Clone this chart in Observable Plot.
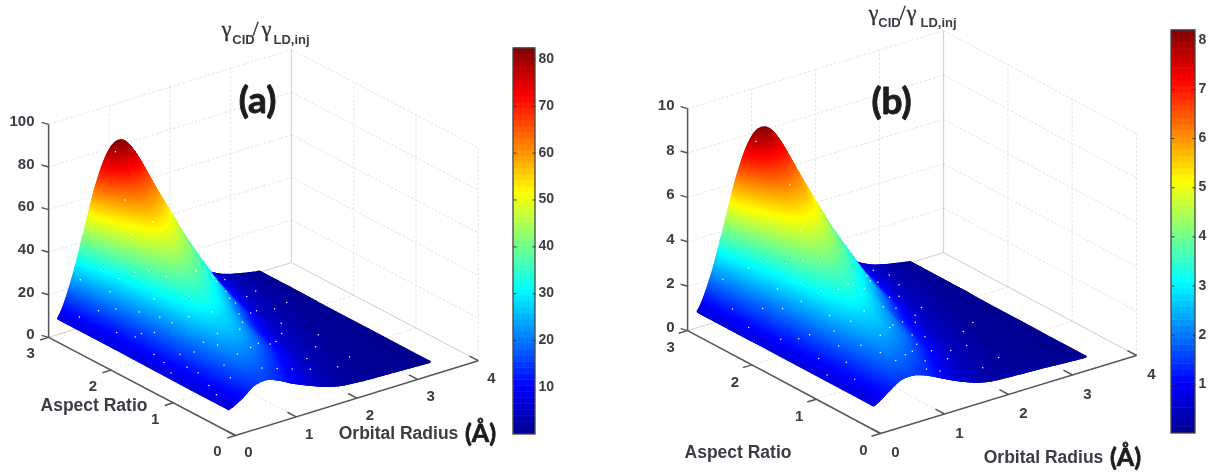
<!DOCTYPE html>
<html><head><meta charset="utf-8">
<script src="https://cdn.jsdelivr.net/npm/d3@7"></script>
<script src="https://cdn.jsdelivr.net/npm/@observablehq/plot@0.6"></script>
<style>
html,body{margin:0;padding:0;background:#fff;overflow:hidden;width:1212px;height:475px}
#root{display:flex;width:1212px;height:475px}
svg{display:block;filter:blur(.45px)}
</style></head><body><div id="root"></div>
<script>
// ---------- data ----------
const aspectRatios=[3,2.7,2.39,2.09,1.79,1.48,1.18,0.88,0.57,0.27];
const orbitalRadii=[0.16,0.37,0.57,0.78,0.99,1.19,1.40,1.61,1.81,2.02,2.23,2.43,2.64,2.85,3.06,3.26,3.47];
const surfaceA=[
[7.5,21.7,41.8,63.8,78.3,82,75,61,45,30,18.5,11.9,7.4,4.3,2.5,1.3,0.3],
[7.5,18,33.2,50.5,62.5,66,62,53,40,27,17,10.2,6.4,3.8,2.3,1.2,0.3],
[7.5,15.9,28,41.7,51.2,54,50,42,32.5,22,13.5,8.4,5.2,3.1,1.9,1,0.2],
[7.4,14.5,25,36.4,43.5,45,41,34,25,16.5,10,6.1,3.9,2.3,1.4,0.7,0.15],
[7.3,13.7,22.7,32.2,37.4,37.3,33,26.5,19,12.5,7.5,4.6,3,1.7,1,0.5,0.1],
[7.2,13.1,21.4,29.4,32.8,31,25.4,18.5,12.9,8.4,5.4,3.5,2.1,1.2,0.7,0.35,0.1],
[7.1,12.5,19.9,26.1,28,24.9,19.9,14,9.8,6.3,4.1,2.5,1.5,0.9,0.5,0.3,0.1],
[7,11.8,18.4,23.3,23.5,20.2,15.4,10.8,7.2,4.6,2.9,1.9,1.1,0.7,0.4,0.2,0.05],
[7,11.4,16.8,19.5,17.9,14.6,10.5,7.2,4.8,3,1.9,1.2,0.8,0.5,0.3,0.15,0],
[7,10.2,14.5,15.5,13.5,10.5,7.8,5.4,3.4,2,1.4,1,0.8,0.6,0.4,0.2,0]];
const surfaceB=[
[0.72,2.1,4.1,6.3,7.75,8.1,7.45,6.05,4.45,3,1.85,1.2,0.74,0.43,0.25,0.13,0.03],
[0.72,1.8,3.3,5,6.2,6.55,6.15,5.25,3.95,2.7,1.7,1.02,0.64,0.38,0.23,0.12,0.03],
[0.72,1.6,2.8,4.15,5.1,5.35,5.05,4.15,3.25,2.2,1.35,0.84,0.52,0.31,0.19,0.1,0.02],
[0.72,1.46,2.5,3.65,4.35,4.5,4.1,3.4,2.5,1.65,1,0.61,0.39,0.23,0.14,0.07,0.02],
[0.72,1.38,2.28,3.22,3.75,3.75,3.3,2.65,1.9,1.25,0.75,0.46,0.3,0.17,0.1,0.05,0.01],
[0.72,1.32,2.15,2.95,3.3,3.1,2.55,1.85,1.29,0.84,0.54,0.35,0.21,0.12,0.07,0.04,0.01],
[0.72,1.26,2,2.62,2.8,2.5,2,1.4,0.98,0.63,0.41,0.25,0.15,0.09,0.05,0.03,0.01],
[0.72,1.2,1.85,2.35,2.38,2.04,1.55,1.08,0.72,0.46,0.29,0.19,0.11,0.07,0.04,0.02,0],
[0.72,1.16,1.72,1.98,1.82,1.48,1.06,0.72,0.48,0.3,0.19,0.12,0.08,0.05,0.03,0.015,0],
[0.72,1.12,1.5,1.56,1.38,1.1,0.8,0.54,0.34,0.22,0.18,0.15,0.13,0.1,0.06,0.03,0]];
const zTicksA=[0,20,40,60,80,100], zTicksB=[0,2,4,6,8,10];
const arTicks=[0,1,2,3], rTicks=[0,1,2,3,4];
const barTicksA=[10,20,30,40,50,60,70,80], barTicksB=[1,2,3,4,5,6,7,8];
// [orbital radius, aspect ratio] of the small white specks on each surface
const specksA=[[.42,2.9],[.55,2.7],[.36,2.55],[.44,2.35],[.3,2.2],[.6,2.45],[.7,2.3],[.52,2.05],[.35,1.95],[.78,2.15],[.66,1.95],[.46,1.75],[.86,1.95],[.6,1.6],[.3,1.6],[.72,1.45],[.88,1.6],[.42,1.3],[.5,1.15],[.22,1.25],[.62,1.12],[.36,.95],[.78,1.05],[.95,1.3],[.3,.72],[.55,.72],[.25,.55],[.75,.7],[1.15,1.05],[1.02,.75],[1.3,.9],[1.45,1.3],[1.65,1.55],[1.9,1.85],[2.1,2.2],[2.3,2.55],[2.5,2.8],[2.75,2.85],[2.2,1.9],[1.7,1.1],[1.95,1.25],[2.3,1.5],[2.55,1.75],[2.8,2.1],[2.1,.9],[2.5,1.15],[2.8,1.4],[1.55,.6],[1.9,.65],[2.35,.65],[2.7,.8],[1.25,1.85],[1.1,2.4],[.95,2.7],[1.05,2.95],[.85,2.5],[.25,2.75],[.5,2.5],[.4,1.9],[.58,1.78],[.28,1.42],[.35,1.12],[.68,.95],[.48,.55],[.9,.45],[1.2,.5],[1.75,1.8],[2.02,2.35],[2.45,2.05],[2.65,2.4],[2.95,2.55],[3.1,2.2]];
const specksB=[[.4,2.85],[.3,2.6],[.55,2.6],[.66,2.42],[.42,2.25],[.74,2.2],[.5,2.02],[.62,1.85],[.85,2.05],[.96,1.9],[1.02,2.25],[.78,1.7],[.3,1.85],[.45,1.55],[.66,1.45],[.9,1.55],[1.05,1.55],[.32,1.28],[.5,1.15],[.74,1.2],[.22,1.05],[.95,1.2],[.62,.92],[.32,.72],[.85,.85],[1.1,.95],[1.25,1.05],[.95,.56],[.74,.5],[1.15,.65],[1.42,.85],[1.6,1.1],[1.75,1.4],[1.95,1.7],[2.2,2.05],[2.42,2.45],[2.75,2.85],[2.9,2.75],[2.1,1.55],[2.3,1.75],[2.6,1.95],[1.8,.75],[2.05,.95],[2.4,1.05],[2.65,1.35],[2.95,1.5],[2.15,.55],[2.55,.7],[1.35,.42],[1.1,.38],[1.3,1.55],[1.2,2.6],[1.02,2.95],[.25,2.3],[.58,2.18],[.72,1.95],[.38,1.65],[.58,1.3],[.42,.95],[.68,.68],[1.25,.55],[1.5,1.45],[1.85,2],[2.15,2.35],[2.5,2.2],[2.8,2.5],[1.65,.85],[1.9,1.2]];

// ---------- layout of each panel, in picture units ----------
const jet=["#00008f","#0000ff","#00ffff","#ffff00","#ff0000","#800000"];
const jetStops=[0,.125,.375,.625,.875,1];
const panels=[
 {name:"(a)",width:606,x0:0,grid:surfaceA,specks:specksA,zTicks:zTicksA,zMax:100,barTicks:barTicksA,barMax:82.3,
  origin:[235,435],rStep:[60.7,-18.7],arStep:[-62.3,-32.7],zPx:2.13,
  arDx:-18,arDy:16,rDx:13,rDy:17,zLabelX:34,
  bar:{x1:513,x2:535,top:48,bottom:434},barLabelX:538,
  letter:[257,101],
  title:{y:28,subY:39,parts:[["γ",226],["CID",243,1],["/",255],["γ",266],["LD,inj",291,1]]},
  arLabel:[93.5,405],rLabel:[398,433],aLabel:[480,433]},
 {name:"(b)",width:606,x0:606,grid:surfaceB,specks:specksB,zTicks:zTicksB,zMax:10,barTicks:barTicksB,barMax:8.2,
  origin:[880,433],rStep:[64,-19.5],arStep:[-64.3,-34.3],zPx:22.2,
  arDx:-17,arDy:17,rDx:15,rDy:19,zLabelX:674,
  bar:{x1:1171,x2:1195,top:30,bottom:433},barLabelX:1198,
  letter:[891,102],
  title:{y:12,subY:22,parts:[["γ",873],["CID",889,1],["/",902],["γ",911],["LD,inj",938,1]]},
  arLabel:[737.5,452],rLabel:[1043,457],aLabel:[1125,457]}
];
const TEXT="#3c3c44", FONT="Liberation Sans, Arial, sans-serif";

function catmull(a,b,c,d,t){return .5*((2*b)+(c-a)*t+(2*a-5*b+4*c-d)*t*t+(3*b-a-3*c+d)*t*t*t);}
function along(arr,u){
  const n=arr.length,i=Math.min(n-2,Math.floor(u)),t=u-i;
  return catmull(arr[Math.max(0,i-1)],arr[i],arr[i+1],arr[Math.min(n-1,i+2)],t);
}
function drawPanel(p){
  const colIndex=d3.scaleLinear(orbitalRadii,orbitalRadii.map((_,i)=>i));
  const rowIndex=d3.scaleLinear(aspectRatios,aspectRatios.map((_,i)=>i));
  const arOf=d3.scaleLinear(aspectRatios.map((_,i)=>i),aspectRatios);
  const rOf=d3.scaleLinear(orbitalRadii.map((_,i)=>i),orbitalRadii);
  const sx=(r,ar)=>p.origin[0]+p.rStep[0]*r+p.arStep[0]*ar;
  const sy=(r,ar,z=0)=>p.origin[1]+p.rStep[1]*r+p.arStep[1]*ar-p.zPx*z;
  const P=(r,ar,z=0,extra={})=>({px:sx(r,ar),py:sy(r,ar,z),...extra});
  const surfaceAt=(u,v)=>{
    const col=p.grid.map(row=>along(row,v));
    return Math.max(0,along(col,u));
  };
  // shaded mesh, far rows first
  const mesh=[];
  const vs=[];
  for(let v=0;v<10;v+=.06)vs.push(v);
  for(let v=10;v<16;v+=.25)vs.push(v);
  vs.push(16);
  const levels=160;
  const us=[];
  for(let u=0;u<3;u+=.025)us.push(u);
  for(let u=3;u<9;u+=.06)us.push(u);
  us.push(9);
  us.forEach((u,k)=>{
    const col=orbitalRadii.map((_,j)=>p.grid.map(row=>row[j]));
    const zs=col.map(c=>along(c,u));
    for(const v of vs){
      const z=Math.max(0,along(zs,v));
      mesh.push(P(rOf(v),arOf(u),z,{row:k,level:Math.round(z/p.barMax*levels)/levels*p.barMax}));
    }
  });
  const specks=p.specks.map(([r,ar])=>P(r,ar,surfaceAt(rowIndex(ar),colIndex(r))));
  // walls, floor, axes
  const seg=(a,b)=>({x1:a.px,y1:a.py,x2:b.px,y2:b.py});
  const grid=[];
  for(const z of p.zTicks){ if(z===0)continue;
    grid.push(seg(P(0,3,z),P(4,3,z)),seg(P(4,3,z),P(4,0,z)));
  }
  for(const r of rTicks.slice(1,4)){
    grid.push(seg(P(r,3,0),P(r,3,p.zMax)),seg(P(r,3,0),P(r,0,0)));
  }
  for(const ar of [1,2]){
    grid.push(seg(P(4,ar,0),P(4,ar,p.zMax)),seg(P(0,ar,0),P(4,ar,0)));
  }
  grid.push(seg(P(4,0,0),P(4,0,p.zMax)));
  const wallEdges=[seg(P(4,3,0),P(4,3,p.zMax)),seg(P(0,3,0),P(4,3,0)),seg(P(4,3,0),P(4,0,0))];
  const axes=[seg(P(0,3,0),P(0,3,p.zMax)),seg(P(0,3,0),P(0,0,0)),seg(P(0,0,0),P(4,0,0))];
  for(const z of p.zTicks)axes.push(seg(P(0,3,z),{px:sx(0,3)-7,py:sy(0,3,z)-2}));
  for(const ar of arTicks)axes.push(seg(P(0,ar,0),P(-.14,ar,0)));
  for(const r of rTicks)axes.push(seg(P(r,0,0),P(r,.14,0)));
  const barY=d3.scaleLinear([0,p.barMax],[p.bar.bottom,p.bar.top]);
  const barSlices=d3.range(0,64).map(i=>{const a=i/64*p.barMax,b=(i+1)/64*p.barMax;
    return {y1:barY(a),y2:barY(b)-.5,value:(a+b)/2};});
  const textBold={fontFamily:FONT,fontWeight:"bold",fill:TEXT};
  const zLab=p.zTicks.map(z=>({label:String(z),py:sy(0,3,z)-3,px:p.zLabelX}));
  const arLab=arTicks.map(a=>({label:String(a),...P(0,a,0)}));
  const rLab=rTicks.map(r=>({label:String(r),...P(r,0,0)}));
  const barLab=p.barTicks.map(v=>({label:String(v),py:barY(v)-1,px:p.barLabelX}));
  const barTickSeg=p.barTicks.flatMap(v=>[{x1:p.bar.x1,x2:p.bar.x1+3,y1:barY(v),y2:barY(v)},{x1:p.bar.x2-3,x2:p.bar.x2,y1:barY(v),y2:barY(v)}]);
  const mainGlyphs=p.title.parts.filter(d=>!d[2]);
  const subGlyphs=p.title.parts.filter(d=>d[2]);
  return Plot.plot({
    width:p.width,height:475,margin:0,
    style:{background:"#fff"},
    x:{domain:[p.x0,p.x0+p.width],range:[0,p.width],axis:null},
    y:{domain:[0,475],range:[0,475],axis:null},
    color:{type:"linear",domain:jetStops.map(t=>t*p.barMax),range:jet,interpolate:"rgb",clamp:true},
    marks:[
      Plot.link(grid,{x1:"x1",y1:"y1",x2:"x2",y2:"y2",stroke:"#dcdcdc",strokeWidth:.8,strokeDasharray:"2.5,2"}),
      Plot.link(wallEdges,{x1:"x1",y1:"y1",x2:"x2",y2:"y2",stroke:"#c8c8c8",strokeWidth:.9}),
      Plot.link(axes,{x1:"x1",y1:"y1",x2:"x2",y2:"y2",stroke:"#555",strokeWidth:1.5}),
      Plot.line(mesh,{x:"px",y:"py",z:"row",stroke:"level",strokeWidth:2.6,curve:"linear"}),
      Plot.dot(specks,{x:"px",y:"py",r:.75,fill:"#fff",stroke:"none"}),
      Plot.text(zLab,{x:"px",y:"py",text:"label",textAnchor:"end",fontSize:15,...textBold}),
      Plot.text(arLab,{x:"px",y:"py",text:"label",dx:p.arDx,dy:p.arDy,fontSize:15,...textBold}),
      Plot.text(rLab,{x:"px",y:"py",text:"label",dx:p.rDx,dy:p.rDy,fontSize:15,...textBold}),
      Plot.rect(barSlices,{x1:()=>p.bar.x1,x2:()=>p.bar.x2,y1:"y1",y2:"y2",fill:"value"}),
      Plot.link(barTickSeg,{x1:"x1",y1:"y1",x2:"x2",y2:"y2",stroke:"#333",strokeWidth:1}),
      Plot.rect([p.bar],{x1:"x1",x2:"x2",y1:"top",y2:"bottom",fill:"none",stroke:"#444",strokeWidth:1.3}),
      Plot.text(barLab,{x:"px",y:"py",text:"label",textAnchor:"start",fontSize:14,...textBold}),
      Plot.text(mainGlyphs,{x:d=>d[1],y:()=>p.title.y,text:d=>d[0],fontSize:22,fontFamily:"Liberation Serif, serif",fill:"#2a2a30",stroke:"#2a2a30",strokeWidth:.3}),
      Plot.text(subGlyphs,{x:d=>d[1],y:()=>p.title.subY,text:d=>d[0],fontSize:13,...textBold}),
      Plot.text([p.name],{x:()=>p.letter[0],y:()=>p.letter[1],text:d=>d,fontSize:37,fontFamily:"Lato, Open Sans, sans-serif",fontWeight:"bold",fill:"#1c1c1c",stroke:"#1c1c1c",strokeWidth:.9}),
      Plot.text(["Aspect Ratio"],{x:()=>p.arLabel[0],y:()=>p.arLabel[1],text:d=>d,fontSize:17.5,...textBold}),
      Plot.text(["Orbital Radius"],{x:()=>p.rLabel[0],y:()=>p.rLabel[1],text:d=>d,fontSize:17.5,...textBold}),
      Plot.text(["(Å)"],{x:()=>p.aLabel[0],y:()=>p.aLabel[1],text:d=>d,fontSize:25,fontFamily:"Lato, Open Sans, sans-serif",fontWeight:"bold",fill:"#1c1c1c",stroke:"#1c1c1c",strokeWidth:.7})
    ]
  });
}
const root=document.getElementById("root");
for(const p of panels)root.appendChild(drawPanel(p));
</script></body></html>
